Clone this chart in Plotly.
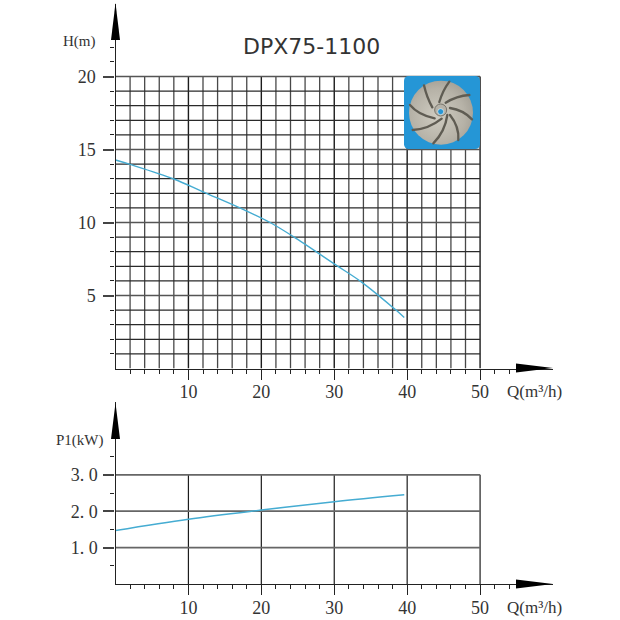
import base64
import plotly.graph_objects as go

q_head = [0, 2, 8, 12, 17.5, 21.2, 24.4, 30.1, 33.8, 38.3, 39.6]
head = [14.28, 13.98, 12.98, 12.1, 10.9, 10.0, 9.03, 7.13, 5.9, 4.07, 3.5]
q_power = [0, 10, 20, 30, 39.6]
power = [1.47, 1.78, 2.03, 2.26, 2.45]

x_major = [10, 20, 30, 40, 50]
x_minor = [2, 4, 6, 8, 12, 14, 16, 18, 22, 24, 26, 28, 32, 34, 36, 38, 42, 44, 46, 48, 52, 54]
x_grid = [2, 4, 6, 8, 12, 14, 16, 18, 22, 24, 26, 28, 32, 34, 36, 38, 42, 44, 46, 48]
h_major = [5, 10, 15, 20]
h_minor = [1, 2, 3, 4, 6, 7, 8, 9, 11, 12, 13, 14, 16, 17, 18, 19, 21, 22]
h_grid = [1, 2, 3, 4, 6, 7, 8, 9, 11, 12, 13, 14, 16, 17, 18, 19]
p_major = [1, 2, 3]
p_major_text = ["1. 0", "2. 0", "3. 0"]
p_minor = [0.5, 1.5, 2.5, 3.5]

W = H = 620
def px(v): return v / W
def py(v): return 1 - v / H

SERIF = "Liberation Serif"
BLUE = "#45acd2"

impeller = """<svg xmlns='http://www.w3.org/2000/svg' viewBox='42 48 228 219' width='228' height='219'>
<defs><filter id='b'><feGaussianBlur stdDeviation='1.6'/></filter>
<radialGradient id='g' cx='45%' cy='55%' r='60%'><stop offset='0' stop-color='#cfccc1'/><stop offset='0.7' stop-color='#b6b2a7'/><stop offset='1' stop-color='#a39f95'/></radialGradient></defs>
<rect x='42' y='48' width='228' height='219' rx='14' fill='#2596d6'/>
<g filter='url(#b)'>
<circle cx='153' cy='158' r='96' fill='url(#g)'/>
<g fill='none' stroke='#5f5c52' stroke-width='7' stroke-linecap='round'>
<path d='M102 76 Q110 112 127 142'/>
<path d='M178 65 Q158 92 148 126'/>
<path d='M238 105 Q200 108 167 128'/>
<path d='M246 178 Q220 150 180 144'/>
<path d='M205 240 Q208 200 180 165'/>
<path d='M130 250 Q165 215 172 165'/>
<path d='M68 210 Q115 208 155 176'/>
<path d='M60 135 Q85 165 134 175'/>
</g>
<circle cx='152' cy='150' r='18' fill='#b5b2a8' stroke='#77746a' stroke-width='3'/>
<circle cx='152' cy='155' r='9' fill='#2596d6' stroke='#eeeeea' stroke-width='2'/>
</g></svg>"""
img_src = "data:image/svg+xml;base64," + base64.b64encode(impeller.encode()).decode()


def seg_vertical(xs, top):
    a, b = [], []
    for v in xs:
        a += [v, v, None]
        b += [0, top, None]
    return a, b


def seg_horizontal(ys, right):
    a, b = [], []
    for v in ys:
        a += [0, right, None]
        b += [v, v, None]
    return a, b


fig = go.Figure()


def line(xa, ya, col, w, ax, shape="linear"):
    fig.add_trace(go.Scatter(x=xa, y=ya, mode="lines", line=dict(color=col, width=w, shape=shape),
                             xaxis=ax[0], yaxis=ax[1], hoverinfo="skip", showlegend=False))


top = ("x", "y")
bot = ("x2", "y2")
line(*seg_vertical(x_grid, 20), "#484848", 1.3, top)
line(*seg_vertical(x_major, 20), "#1c1c1c", 1.4, top)
line(*seg_horizontal(h_grid, 50), "#2a2a2a", 1.2, top)
line(*seg_horizontal(h_major, 50), "#555555", 1.7, top)
line(*seg_vertical(x_major, 3), "#1c1c1c", 1.2, bot)
line(*seg_horizontal(p_major, 50), "#666666", 1.8, bot)
line(q_head, head, BLUE, 1.4, top, "spline")
line(q_power, power, BLUE, 1.5, bot, "spline")

axis_font = dict(family=SERIF, size=18, color="#333333")


def x_axis(domain_anchor):
    return dict(domain=[px(115.5), px(553)], range=[0, 60], anchor=domain_anchor,
                tickmode="array", tickvals=x_major, ticks="outside", ticklen=10,
                tickcolor="#222222", tickwidth=1.3, tickfont=axis_font, ticklabelstandoff=-3,
                showgrid=False, zeroline=False, showline=True, linecolor="#222222", linewidth=1.4,
                minor=dict(tickmode="array", tickvals=x_minor, ticks="outside", ticklen=4,
                           tickcolor="#222222", tickwidth=1.2, showgrid=False))


def y_axis(domain, rng, vals, text, minor, anchor, standoff):
    return dict(domain=domain, range=rng, anchor=anchor, tickmode="array", tickvals=vals, ticktext=text,
                ticks="outside", ticklen=11, tickcolor="#444444", tickwidth=1.5, tickfont=axis_font,
                ticklabelstandoff=standoff,
                showgrid=False, zeroline=False, showline=True, linecolor="#222222", linewidth=1.4,
                minor=dict(tickmode="array", tickvals=minor, ticks="outside", ticklen=4,
                           tickcolor="#222222", tickwidth=1.2, showgrid=False))


def label(txt, x, y, size=15):
    return dict(text=txt, x=px(x), y=py(y), xref="paper", yref="paper", showarrow=False,
                xanchor="center", yanchor="middle", font=dict(family=SERIF, size=size, color="#333333"))


shapes = []
for x0, x1, y0, y1 in [(111, 120, 40, 3), (111, 120, 439, 403)]:
    cx = (x0 + x1) / 2
    shapes.append(dict(type="path", xref="paper", yref="paper", fillcolor="#000000", line=dict(width=0),
                       path=f"M {px(x0)} {py(y0)} L {px(x1)} {py(y0)} L {px(cx)} {py(y1)} Z"))
for yc in (368, 584):
    shapes.append(dict(type="path", xref="paper", yref="paper", fillcolor="#000000", line=dict(width=0),
                       path=f"M {px(516)} {py(yc-4.5)} L {px(516)} {py(yc+4.5)} L {px(553)} {py(yc)} Z"))

fig.update_layout(
    width=W, height=H, autosize=False, margin=dict(l=0, r=0, t=0, b=0),
    paper_bgcolor="white", plot_bgcolor="white", showlegend=False,
    xaxis=x_axis("y"),
    yaxis=y_axis([py(368.5), py(3.5)], [0, 25], h_major, [str(v) for v in h_major], h_minor, "x", 4),
    xaxis2=x_axis("y2"),
    yaxis2=y_axis([py(584), py(402)], [0, 5], p_major, p_major_text, p_minor, "x2", 2),
    shapes=shapes,
    images=[dict(source=img_src, xref="paper", yref="paper", x=px(404), y=py(76),
                 sizex=76 / W, sizey=73 / H, sizing="stretch", layer="above",
                 xanchor="left", yanchor="top")],
    annotations=[
        dict(text="DPX75-1100", x=px(311), y=py(46), xref="paper", yref="paper", showarrow=False,
             xanchor="center", yanchor="middle", font=dict(family="DejaVu Sans", size=22, color="#333333")),
        label("H(m)", 79, 41, 15),
        label("P1(kW)", 80, 440, 15),
        label("Q(m³/h)", 534, 391, 17),
        label("Q(m³/h)", 534, 607, 17),
    ],
)
fig.write_html("out.html", config=dict(displayModeBar=False),
               post_script="document.body.style.margin='0';document.documentElement.style.overflow='hidden';")
